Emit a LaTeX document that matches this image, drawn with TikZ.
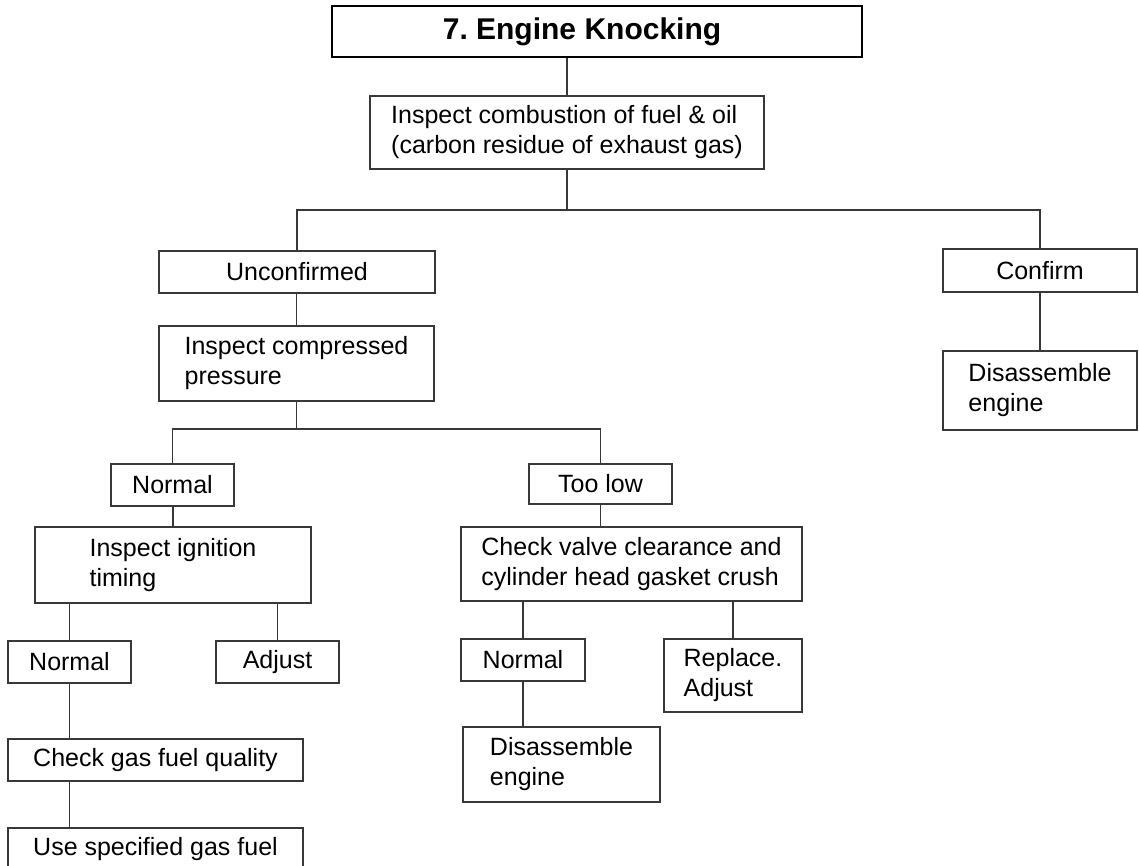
\documentclass[tikz,border=0pt]{standalone}
\usepackage{fontspec}
\setmainfont{Liberation Sans}
\frenchspacing
\tikzset{
  box/.style={draw=black!78, line width=1.2pt, inner sep=0pt, align=left,
    font=\fontsize{25}{30}\selectfont, text=black},
  titlebox/.style={draw=black, line width=2.6pt, inner sep=0pt,
    font=\fontsize{30}{36}\selectfont\bfseries, text=black},
  link/.style={draw=black!78, line width=1.2pt}
}
\begin{document}
\begin{tikzpicture}[x=1pt,y=-1pt]
\clip (0,0) rectangle (1139,865);
\fill[white] (0,0) rectangle (1139,865);
\node[titlebox, minimum width=530pt, minimum height=51pt] (title) at (597,31.5) {7.\ Engine Knocking\hspace*{30pt}};
\node[box, minimum width=394pt, minimum height=73pt] (b2) at (567,132.5) {Inspect combustion of fuel \& oil\\(carbon residue of exhaust gas)};
\node[box, minimum width=276pt, minimum height=42pt] (unc) at (297,272) {Unconfirmed};
\node[box, minimum width=194pt, minimum height=43pt] (conf) at (1040,270.5) {Confirm};
\node[box, minimum width=194pt, minimum height=79pt] (dis1) at (1040,390.5) {Disassemble\\engine};
\node[box, minimum width=275pt, minimum height=75pt] (press) at (296.5,363.5) {Inspect compressed\\pressure};
\node[box, minimum width=123pt, minimum height=42pt] (na) at (172.5,485) {Normal};
\node[box, minimum width=143pt, minimum height=40pt] (tl) at (600.5,484) {Too low};
\node[box, minimum width=276pt, minimum height=76pt] (ign) at (173,565) {Inspect ignition\\timing};
\node[box, minimum width=341pt, minimum height=74pt] (cv) at (631.5,564) {Check valve clearance and\\cylinder head gasket crush};
\node[box, minimum width=123pt, minimum height=42pt] (nb) at (69.5,662) {Normal};
\node[box, minimum width=123pt, minimum height=42pt] (adj) at (277.5,662) {Adjust};
\node[box, minimum width=124pt, minimum height=42pt] (nc) at (523,660) {Normal};
\node[box, minimum width=138pt, minimum height=73pt] (rep) at (733,675.5) {Replace.\\Adjust};
\node[box, minimum width=197pt, minimum height=75pt] (dis2) at (561.5,764.5) {Disassemble\\engine};
\node[box, minimum width=295pt, minimum height=42pt] (cg) at (155.5,760) {Check gas fuel quality};
\node[box, minimum width=295pt, minimum height=42pt] (use) at (155.5,849) {Use specified gas fuel};
\coordinate (j1) at (0,210);
\coordinate (j2) at (0,429);
\draw[link] (b2.north) -- (b2.north |- title.south);
\draw[link] (b2.south) -- (b2.south |- j1);
\draw[link] (unc.north) -- (unc.north |- j1) -- (conf.north |- j1) -- (conf.north);
\draw[link] (press.north) -- (press.north |- unc.south);
\draw[link] (conf.south) -- (dis1.north);
\draw[link] (press.south) -- (press.south |- j2);
\draw[link] (na.north) -- (na.north |- j2) -- (tl.north |- j2) -- (tl.north);
\draw[link] (ign.north) -- (ign.north |- na.south);
\draw[link] (tl.south) -- (tl.south |- cv.north);
\draw[link] (nb.north) -- (nb.north |- ign.south);
\draw[link] (adj.north) -- (adj.north |- ign.south);
\draw[link] (nb.south) -- (nb.south |- cg.north);
\draw[link] (nb.south |- cg.south) -- (nb.south |- use.north);
\draw[link] (nc.north) -- (nc.north |- cv.south);
\draw[link] (rep.north) -- (rep.north |- cv.south);
\draw[link] (nc.south) -- (nc.south |- dis2.north);
\end{tikzpicture}
\end{document}
